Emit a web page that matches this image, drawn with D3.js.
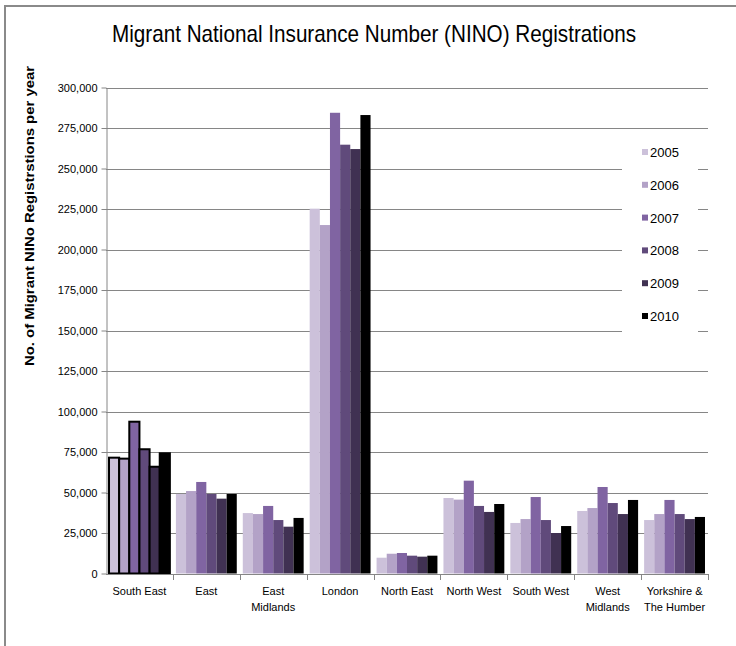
<!DOCTYPE html>
<html lang="en">
<head>
    <meta charset="UTF-8">
    <script src="https://d3js.org/d3.v7.min.js"></script>
    <style>
        body { margin: 0; background: #fff; }
        text { font-family: "Liberation Sans", Arial, sans-serif; fill: #000; }
    </style>
    <title>Migrant NINO Registrations</title>
</head>
<body>
<div id="chart"></div>
<script>
    const width = 736;
    const height = 646;

    // Regions (label lines) and years
    const regions = ["South East", "East", "East Midlands", "London", "North East",
        "North West", "South West", "West Midlands", "Yorkshire & The Humber"];
    const regionLines = [["South East"], ["East"], ["East", "Midlands"], ["London"], ["North East"],
        ["North West"], ["South West"], ["West", "Midlands"], ["Yorkshire &", "The Humber"]];
    const years = ["2005", "2006", "2007", "2008", "2009", "2010"];

    // Registrations per year, one value per region
    const v2005 = [71500, 49100, 37300, 225200, 9750, 46600, 31200, 38600, 33000];
    const v2006 = [70900, 50900, 36700, 215100, 12200, 45600, 33600, 40400, 36700];
    const v2007 = [93700, 56500, 41700, 284400, 12650, 57300, 47200, 53400, 45400];
    const v2008 = [76700, 49100, 33000, 264700, 11000, 41700, 33000, 43500, 36700];
    const v2009 = [65900, 46200, 28900, 262000, 10400, 38000, 25000, 36700, 33600];
    const v2010 = [74200, 49100, 34300, 283000, 11000, 42900, 29300, 45400, 34900];
    const series = [v2005, v2006, v2007, v2008, v2009, v2010];

    const yTicks = d3.range(0, 300001, 25000);
    const colors = ["#ccc1da", "#b3a2c7", "#8064a2", "#604a7b", "#403152", "#000000"];

    const svg = d3.select("#chart").append("svg")
        .attr("width", width)
        .attr("height", height);

    // outer frame (only top and left edges visible)
    svg.append("rect")
        .attr("x", 5).attr("y", 6)
        .attr("width", 760).attr("height", 700)
        .attr("fill", "none")
        .attr("stroke", "#8a8a8a")
        .attr("stroke-width", 2);

    const x0 = d3.scaleBand()
        .domain(regions)
        .range([106, 708])
        .paddingInner(0.09)
        .paddingOuter(0.045);

    const x1 = d3.scaleBand()
        .domain(years)
        .range([0, x0.bandwidth()]);

    const y = d3.scaleLinear()
        .domain([0, 300000])
        .range([573.5, 87.5]);

    // gridlines
    svg.append("g")
        .selectAll("line")
        .data(yTicks.slice(1))
        .enter().append("line")
        .attr("x1", 106).attr("x2", 708)
        .attr("y1", d => Math.round(y(d)) + 0.5)
        .attr("y2", d => Math.round(y(d)) + 0.5)
        .attr("stroke", "#868686");

    // legend background hides gridlines
    svg.append("rect")
        .attr("x", 622).attr("y", 138)
        .attr("width", 76).attr("height", 194)
        .attr("fill", "#fff");

    // y axis
    const yAxis = svg.append("g")
        .attr("transform", "translate(106.5,0)")
        .call(d3.axisLeft(y).tickValues(yTicks).tickSize(5).tickSizeOuter(0)
            .tickFormat(d3.format(",")));
    yAxis.select(".domain").attr("stroke", "#868686");
    yAxis.selectAll(".tick line").attr("stroke", "#868686");
    yAxis.selectAll(".tick text")
        .attr("x", -9)
        .style("font-size", "11px")
        .style("font-family", "'Liberation Sans', Arial, sans-serif")
        .attr("fill", "#111");

    // bars
    const groups = svg.append("g")
        .selectAll("g")
        .data(regions)
        .enter().append("g")
        .attr("transform", d => `translate(${x0(d)},0)`);

    groups.selectAll("rect")
        .data((r, i) => years.map((yr, k) => ({ region: r, year: yr, value: series[k][i], k })))
        .enter().append("rect")
        .attr("x", d => x1(d.year))
        .attr("width", x1.bandwidth())
        .attr("y", d => y(d.value))
        .attr("height", d => y(0) - y(d.value))
        .attr("fill", d => colors[d.k])
        .attr("stroke", d => d.region === "South East" ? "#000" : "none")
        .attr("stroke-width", 2);

    // x axis line and category ticks
    svg.append("line")
        .attr("x1", 106).attr("x2", 708)
        .attr("y1", 574.5).attr("y2", 574.5)
        .attr("stroke", "#868686");
    const bounds = regions.map(r => x0(r) - x0.step() * x0.paddingInner() / 2).concat([708]);
    svg.append("g")
        .selectAll("line")
        .data(bounds.slice(1))
        .enter().append("line")
        .attr("x1", d => Math.round(d) + 0.5).attr("x2", d => Math.round(d) + 0.5)
        .attr("y1", 574).attr("y2", 580)
        .attr("stroke", "#868686");

    // category labels
    const labels = svg.append("g")
        .selectAll("text")
        .data(regions)
        .enter().append("text")
        .attr("x", d => x0(d) + x0.bandwidth() / 2)
        .attr("y", 595)
        .attr("text-anchor", "middle")
        .style("font-size", "11px");
    labels.each(function (d, i) {
        d3.select(this).selectAll("tspan")
            .data(regionLines[i])
            .enter().append("tspan")
            .attr("x", x0(d) + x0.bandwidth() / 2)
            .attr("dy", (l, j) => j === 0 ? 0 : 16)
            .text(l => l);
    });

    // title
    svg.append("text")
        .attr("x", 374)
        .attr("y", 42)
        .attr("text-anchor", "middle")
        .attr("textLength", 524)
        .attr("lengthAdjust", "spacingAndGlyphs")
        .style("font-size", "24px")
        .text("Migrant National Insurance Number (NINO) Registrations");

    // y axis title
    svg.append("text")
        .attr("transform", "translate(34,216) rotate(-90)")
        .attr("text-anchor", "middle")
        .attr("textLength", 300)
        .attr("lengthAdjust", "spacingAndGlyphs")
        .style("font-size", "13px")
        .style("font-weight", "bold")
        .text("No. of Migrant NINo Registrstions per year");

    // legend
    const legend = svg.append("g")
        .selectAll("g")
        .data(years)
        .enter().append("g")
        .attr("transform", (d, i) => `translate(642,${149 + i * 32.8})`);
    legend.append("rect")
        .attr("width", 6).attr("height", 6)
        .attr("fill", (d, i) => colors[i]);
    legend.append("text")
        .attr("x", 8)
        .attr("y", 8)
        .style("font-size", "13px")
        .text(d => d);
</script>
</body>
</html>
